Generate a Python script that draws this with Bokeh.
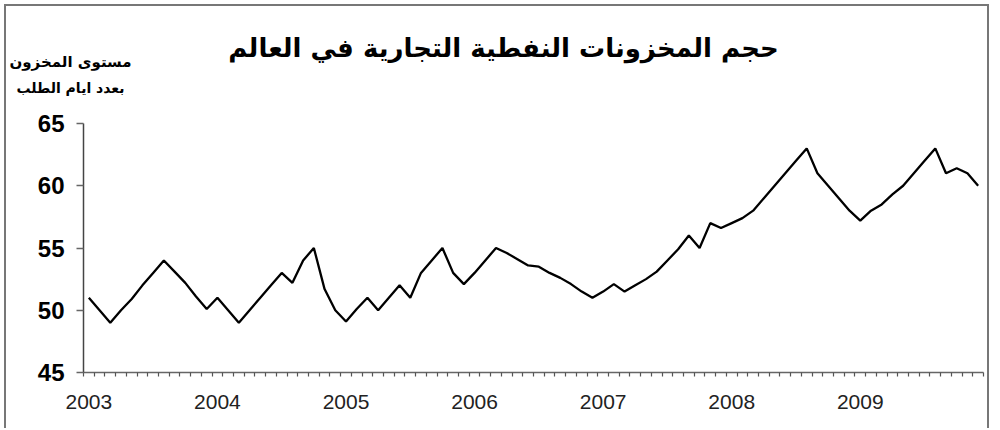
from bokeh.plotting import figure
from bokeh.models import FixedTicker, Range1d, Label
from bokeh.embed import file_html
from bokeh.resources import INLINE

title_text = "حجم المخزونات النفطية التجارية في العالم"
ylabel_lines = ["مستوى المخزون", "بعدد ايام الطلب"]
years = ["2003", "2004", "2005", "2006", "2007", "2008", "2009"]
y_ticks = [45, 50, 55, 60, 65]

# monthly days-of-demand cover, Jan 2003 .. Dec 2009
values = [
    51.0, 50.0, 49.0, 50.0, 50.9, 52.0, 53.0, 54.0, 53.1, 52.2, 51.1, 50.1,
    51.0, 50.0, 49.0, 50.0, 51.0, 52.0, 53.0, 52.2, 54.0, 55.0, 51.7, 50.0,
    49.1, 50.1, 51.0, 50.0, 51.0, 52.0, 51.0, 53.0, 54.0, 55.0, 53.0, 52.1,
    53.0, 54.0, 55.0, 54.6, 54.1, 53.6, 53.5, 53.0, 52.6, 52.1, 51.5, 51.0,
    51.5, 52.1, 51.5, 52.0, 52.5, 53.1, 54.0, 54.9, 56.0, 55.0, 57.0, 56.6,
    57.0, 57.4, 58.0, 59.0, 60.0, 61.0, 62.0, 63.0, 61.0, 60.0, 59.0, 58.0,
    57.2, 58.0, 58.5, 59.3, 60.0, 61.0, 62.0, 63.0, 61.0, 61.4, 61.0, 60.0,
]

n = len(values)
idx = list(range(n))

# ---- layout (pixels) ----
W, H = 985, 424            # canvas size
ORG_X, ORG_Y = 6, 6        # canvas origin on the page (margin + border)
AX_L, AX_R = 83, 983       # page x of the plotted axis span
AX_T, AX_B = 123, 372      # page y of top (65) and bottom (45) of the y axis

px_per_x = (AX_R - AX_L) / n
px_per_y = (AX_B - AX_T) / (y_ticks[-1] - y_ticks[0])


def xd(px):
    return -0.5 + (px - AX_L) / px_per_x


def yd(py):
    return y_ticks[0] + (AX_B - py) / px_per_y


p = figure(
    width=W, height=H,
    min_border=0, min_border_left=0, min_border_right=0,
    min_border_top=0, min_border_bottom=0,
    x_range=Range1d(xd(ORG_X), xd(ORG_X + W)),
    y_range=Range1d(yd(ORG_Y + H), yd(ORG_Y)),
    output_backend="svg", toolbar_location=None,
    background_fill_color="white", border_fill_color="white",
    styles={
        "border-left": "2px solid #777777",
        "border-top": "2px solid #777777",
        "border-right": "2px solid #777777",
        "margin-left": "4px",
        "margin-top": "4px",
    },
)
p.outline_line_color = None
p.grid.visible = False

p.line(idx, values, line_color="black", line_width=2.3)

# x axis
xa = p.xaxis[0]
xa.fixed_location = y_ticks[0]
xa.bounds = (-0.5, n - 0.5)
xa.ticker = FixedTicker(ticks=[12 * i for i in range(len(years))],
                        minor_ticks=[i - 0.5 for i in range(n + 1)])
xa.major_label_overrides = {12 * i: y for i, y in enumerate(years)}
xa.major_tick_line_color = None
xa.major_tick_out = 0
xa.major_tick_in = 0
xa.minor_tick_out = 4
xa.minor_tick_in = 0
xa.minor_tick_line_color = "#555555"
xa.minor_tick_line_width = 1.2
xa.axis_line_color = "#666666"
xa.axis_line_width = 1.5
xa.major_label_standoff = 18
xa.major_label_text_font = "Liberation Sans"
xa.major_label_text_font_size = "21px"
xa.major_label_text_color = "#222222"

# y axis
ya = p.yaxis[0]
ya.fixed_location = -0.5
ya.bounds = (y_ticks[0], y_ticks[-1])
ya.ticker = FixedTicker(ticks=y_ticks)
ya.major_tick_out = 7
ya.major_tick_in = 0
ya.minor_tick_line_color = None
ya.major_tick_line_color = "#666666"
ya.major_tick_line_width = 1.3
ya.axis_line_color = "#444444"
ya.axis_line_width = 1.5
ya.major_label_standoff = 12
ya.major_label_text_font = "Liberation Sans"
ya.major_label_text_font_style = "bold"
ya.major_label_text_font_size = "24px"
ya.major_label_text_color = "black"

p.add_layout(Label(x=xd(503), y=yd(47), text=title_text, text_align="center",
                   text_baseline="middle", text_font="DejaVu Sans",
                   text_font_style="bold", text_font_size="26px", text_color="black"))
p.add_layout(Label(x=xd(70), y=yd(61), text=ylabel_lines[0], text_align="center",
                   text_baseline="middle", text_font="DejaVu Sans",
                   text_font_style="bold", text_font_size="15px", text_color="black"))
p.add_layout(Label(x=xd(70), y=yd(87), text=ylabel_lines[1], text_align="center",
                   text_baseline="middle", text_font="DejaVu Sans",
                   text_font_style="bold", text_font_size="14px", text_color="black"))

open("out.html", "w").write(file_html(p, INLINE))
